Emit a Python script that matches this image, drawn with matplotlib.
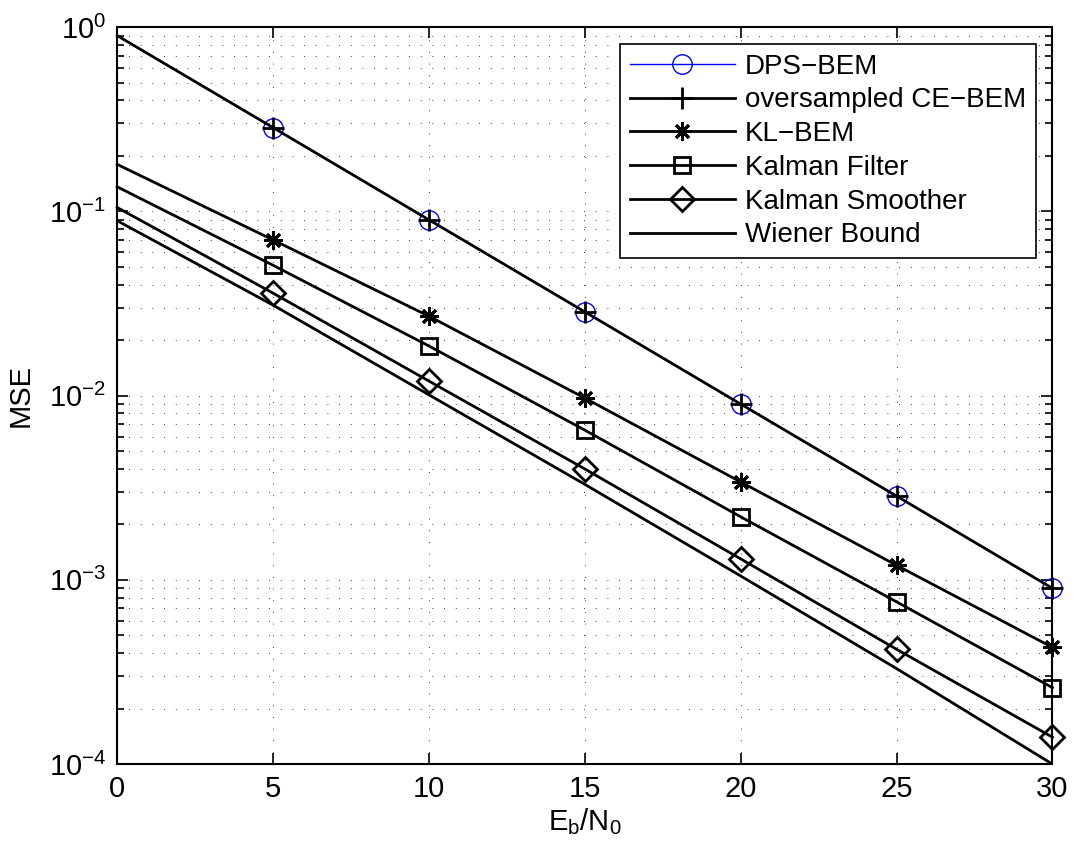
import matplotlib
matplotlib.use("Agg")
import matplotlib.pyplot as plt

plt.rcParams['font.family'] = ['Liberation Sans', 'DejaVu Sans']
plt.rcParams['mathtext.default'] = 'regular'

# Eb/N0 grid (dB) and MSE values
ebn0 = [0, 5, 10, 15, 20, 25, 30]
dps_bem = [0.9, 0.285, 0.09, 0.0285, 0.009, 0.00285, 0.0009]
ce_bem = [0.9, 0.285, 0.09, 0.0285, 0.009, 0.00285, 0.0009]
kl_bem = [0.18, 0.07, 0.027, 0.0097, 0.0034, 0.0012, 0.00043]
kalman_filter = [0.136, 0.051, 0.0186, 0.0065, 0.0022, 0.00076, 0.00026]
kalman_smoother = [0.105, 0.036, 0.012, 0.0040, 0.0013, 0.00042, 0.00014]
wiener_bound = [0.089, 0.031, 0.0101, 0.0033, 0.00105, 0.00033, 0.0001]

fig = plt.figure(figsize=(10.75, 8.49), dpi=100)
ax = fig.add_axes([0.109, 0.100, 0.870, 0.868])

mk = list(range(1, len(ebn0)))  # markers only from 5 dB on

ax.semilogy(ebn0, dps_bem, color='blue', lw=1, marker='o', ms=14, mfc='none',
            mec='blue', mew=1, markevery=mk, clip_on=False, label='DPS\u2212BEM')
ax.semilogy(ebn0, ce_bem, color='k', lw=2, marker='+', ms=16, mew=2,
            markevery=mk, clip_on=False, label='oversampled CE\u2212BEM')
ax.semilogy(ebn0, kl_bem, color='k', lw=2, marker=(8, 2, 0), ms=13, mew=2,
            markevery=mk, clip_on=False, label='KL\u2212BEM')
ax.semilogy(ebn0, kalman_filter, color='k', lw=2, marker='s', ms=11, mfc='none',
            mew=2, markevery=mk, clip_on=False, label='Kalman Filter')
ax.semilogy(ebn0, kalman_smoother, color='k', lw=2, marker='D', ms=12, mfc='none',
            mew=2, markevery=mk, clip_on=False, label='Kalman Smoother')
ax.semilogy(ebn0, wiener_bound, color='k', lw=2, label='Wiener Bound')

ax.set_xlim(0, 30)
ax.set_ylim(1e-4, 1)
ax.set_xticks([0, 5, 10, 15, 20, 25, 30])

ax.grid(True, which='major', axis='x', color='k', ls=(0, (1, 13)), lw=0.6)
ax.grid(True, which='both', axis='y', color='k', ls=(0, (1, 13)), lw=0.6)

ax.tick_params(which='both', direction='in', top=True, right=True, labelsize=21, width=1.2)
ax.tick_params(which='major', length=8, pad=8)
ax.tick_params(which='minor', length=5)
for s in ax.spines.values():
    s.set_linewidth(1.5)

ax.set_xlabel('$E_b/N_0$', fontsize=21, labelpad=2)
ax.set_ylabel('MSE', fontsize=21, labelpad=10)

leg = ax.legend(loc='upper right', fontsize=20, handlelength=3.8, fancybox=False,
                framealpha=1, edgecolor='k', borderaxespad=0.6, labelspacing=0.28,
                handletextpad=0.35, borderpad=0.35)
leg.get_frame().set_linewidth(1.2)

fig.savefig('out.png', dpi=100)
